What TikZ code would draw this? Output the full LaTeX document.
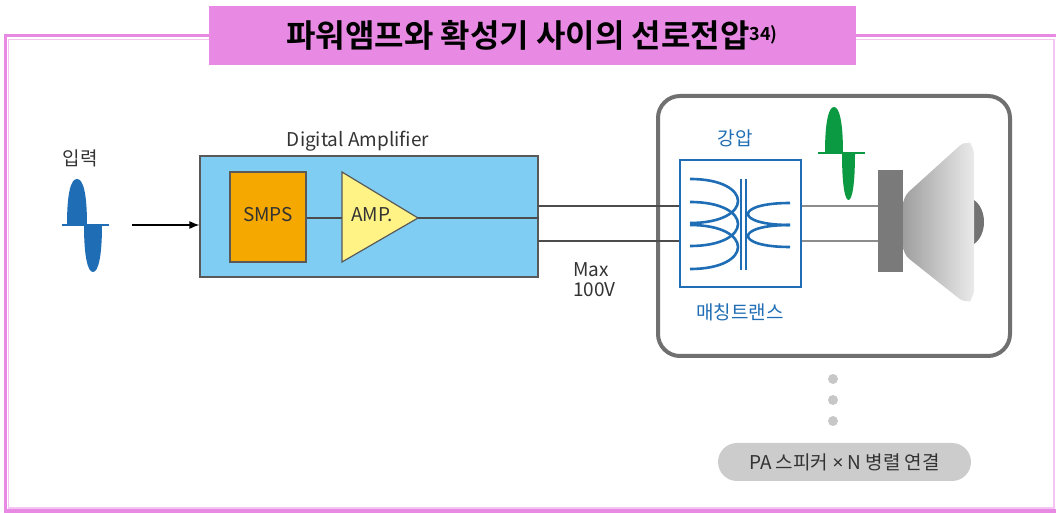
\documentclass[tikz,border=0pt]{standalone}
\usepackage{fontspec}
\setmainfont{Noto Sans CJK KR}
\newfontfamily\titlefont{Noto Sans CJK KR Bold}
\newfontfamily\latinfont{Noto Sans}
\usepackage{xcolor}
\usetikzlibrary{shapes, arrows.meta, positioning, calc}

\definecolor{framepink}{HTML}{E88AE4}
\definecolor{lightpink}{HTML}{F4C4F2}
\definecolor{ampblue}{HTML}{7FCDF3}
\definecolor{smpsorange}{HTML}{F5A800}
\definecolor{ampyellow}{HTML}{FFF385}
\definecolor{coilblue}{HTML}{1F6DB4}
\definecolor{wavegreen}{HTML}{0B9A41}
\definecolor{textgray}{HTML}{333333}
\definecolor{boxgray}{HTML}{707070}

\tikzset{
  wire/.style={draw=black!70, line width=0.6pt},
  blockbox/.style={draw=black!65, line width=0.6pt, inner sep=0pt},
  label/.style={text=textgray, font=\fontsize{9.5}{10}\selectfont},
  bluelabel/.style={text=coilblue, font=\fontsize{9.5}{10}\selectfont},
  coil/.style={draw=coilblue, line width=1.3pt},
  dot/.style={circle, fill=black!22, inner sep=0pt, minimum size=5pt}
}

\begin{document}
\begin{tikzpicture}[x=0.5pt, y=-0.5pt]
  \useasboundingbox (0,0) rectangle (1056,513);

  % Double frame
  \draw[lightpink, line width=0.8pt] (8.5,39.5) rectangle (1054,508);
  \draw[framepink, line width=1.6pt] (1056,35.5) -- (5.5,35.5) -- (5.5,511) -- (1056,511);

  % Title banner
  \fill[framepink] (209,6) rectangle (856,65);
  \node[font=\titlefont\fontsize{16}{18}\selectfont] (title) at (532,35)
    {파워앰프와 확성기 사이의 선로전압\raisebox{0.4ex}{\fontsize{9}{10}\selectfont 34)}};

  % Input signal
  \node[label] (inlbl) at (80,158) {입력};
  \fill[coilblue] (67,225) .. controls (67,192) and (71,179) .. (77,179)
    .. controls (83,179) and (87,192) .. (87,225) -- cycle;
  \fill[coilblue] (84,225) .. controls (84,258) and (88,272) .. (93,272)
    .. controls (98,272) and (102,258) .. (102,225) -- cycle;
  \draw[coilblue, line width=1.4pt] (62,225) -- (109,225);

  % Digital amplifier block
  \node[blockbox, fill=ampblue, minimum width=169pt, minimum height=60.5pt] (dig) at (369,216.5) {};
  \node[label] (diglbl) at (358,141) {Digital Amplifier};
  \coordinate (inarrow) at (132,225);
  \draw[black, line width=0.6pt, -{Latex[length=5pt, width=4pt]}] (inarrow) -- (dig.west |- inarrow);

  \node[blockbox, fill=smpsorange, minimum width=38pt, minimum height=45pt] (smps) at (268,217) {};
  \node[label] at (268,215) {SMPS};

  % Amplifier triangle
  \coordinate (ampL) at (342,218);
  \coordinate (ampT) at (418,218);
  \filldraw[fill=ampyellow, draw=black!65, line width=0.6pt] (342,172) -- (ampT) -- (342,262) -- cycle;
  \node[label] (amplbl) at (372,215) {AMP.};
  \draw[wire] (smps.east |- ampL) -- (ampL);
  \draw[wire] (ampT) -- (dig.east |- ampT);

  % Speaker enclosure
  \draw[boxgray, line width=2pt, rounded corners=11pt] (658,96) rectangle (1010,356);

  % Matching transformer
  \node[draw=coilblue, line width=1pt, minimum width=60.5pt, minimum height=63.5pt] (xfmr) at (740,223.5) {};
  \node[bluelabel] (steplbl) at (735,138) {강압};
  \node[bluelabel] (xfmrlbl) at (740,312) {매칭트랜스};
  % primary winding
  \foreach \y in {179,202,225}
    \draw[coil] (690,\y) .. controls (754,\y) and (754,\y+44) .. (690,\y+44);
  % secondary winding
  \foreach \y in {203,225}
    \draw[coil] (790,\y) .. controls (734,\y) and (734,\y+22) .. (790,\y+22);
  % core
  \draw[coil, line width=1pt] (741,179) -- (741,270);
  \draw[coil, line width=1pt] (746,179) -- (746,270);

  % Lines to the transformer
  \coordinate (o1) at (538,206);
  \coordinate (o2) at (538,241);
  \draw[wire] (o1) -- (xfmr.west |- o1);
  \draw[wire] (o2) -- (xfmr.west |- o2);
  \node[label, align=left, anchor=north west] (vmax) at (566,256) {Max\\100V};

  % Speaker
  \node[fill=black!52, minimum width=12.5pt, minimum height=51pt, inner sep=0pt] (spk) at (890.5,221.5) {};
  \fill[black!55] (966,197) .. controls (990,200) and (990,244) .. (966,247) -- cycle;
  \shade[left color=black!38, right color=black!8, rounded corners=4pt]
    (903,197) -- (966,140) -- (974,146) -- (974,298) -- (966,304) -- (903,254) -- cycle;
  \draw[black!45, line width=0.6pt] (xfmr.east |- o1) -- (spk.west |- o1);
  \draw[black!45, line width=0.6pt] (xfmr.east |- o2) -- (spk.west |- o2);

  % Output signal
  \fill[wavegreen] (825,153) .. controls (825,120) and (829,107) .. (834,107)
    .. controls (839,107) and (843,120) .. (843,153) -- cycle;
  \fill[wavegreen] (842,153) .. controls (842,186) and (845,200) .. (848.5,200)
    .. controls (852,200) and (855,186) .. (855,153) -- cycle;
  \draw[wavegreen, line width=1.4pt] (818,153) -- (865,153);

  % More speakers in parallel
  \foreach \y [count=\i] in {379,400,421}
    \node[dot] (d\i) at (833,\y) {};
  \node[fill=black!20, rounded corners=9.5pt, minimum width=126.5pt, minimum height=19pt,
        text=textgray, font=\fontsize{9.5}{10}\selectfont] (palbl) at (844.5,462)
    {PA 스피커 {\latinfont ×} N 병렬 연결};
\end{tikzpicture}
\end{document}
